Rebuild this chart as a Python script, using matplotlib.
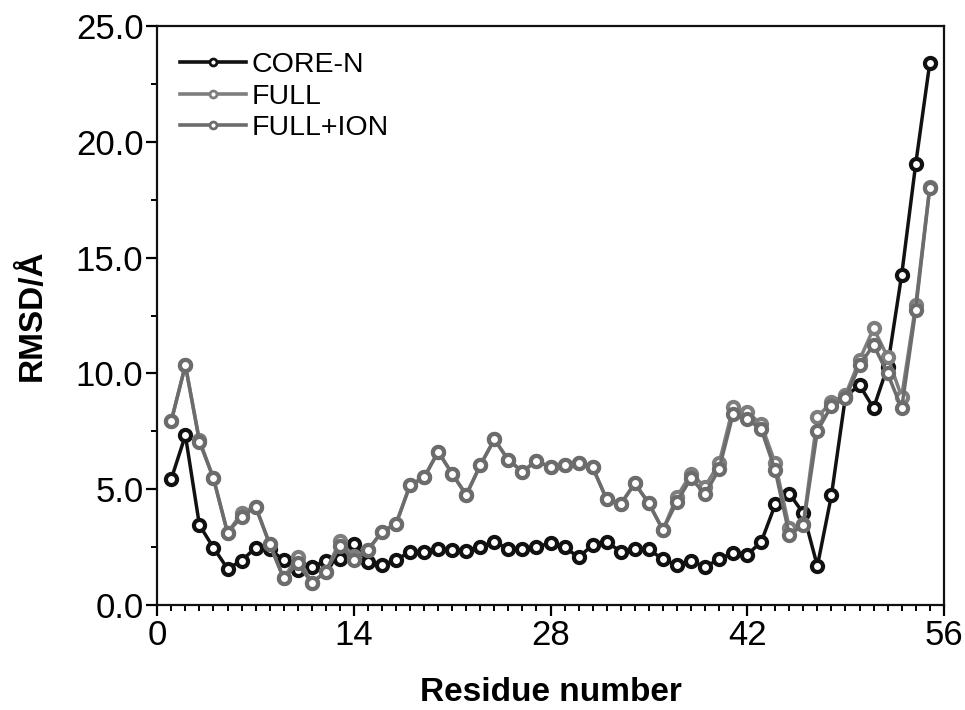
import matplotlib
matplotlib.use("Agg")
import matplotlib.pyplot as plt
from matplotlib.lines import Line2D
from matplotlib.ticker import MultipleLocator, FormatStrFormatter

plt.rcParams['font.family'] = ['Liberation Sans', 'DejaVu Sans']

residues = list(range(1, 56))

core_n = [5.45, 7.33, 3.45, 2.47, 1.57, 1.90, 2.48, 2.40, 1.94, 1.51,
          1.63, 1.91, 1.97, 2.62, 1.87, 1.73, 1.94, 2.30, 2.30, 2.42,
          2.37, 2.35, 2.52, 2.73, 2.42, 2.42, 2.52, 2.66, 2.49, 2.06,
          2.59, 2.73, 2.30, 2.40, 2.40, 1.97, 1.73, 1.91, 1.65, 1.97,
          2.26, 2.17, 2.72, 4.34, 4.81, 3.96, 1.68, 4.73, 9.00, 9.50,
          8.50, 10.30, 14.25, 19.04, 23.40]

full = [7.96, 10.36, 7.12, 5.47, 3.12, 3.96, 4.25, 2.63, 1.15, 2.09,
        0.95, 1.44, 2.75, 2.10, 2.37, 3.17, 3.50, 5.18, 5.51, 6.62,
        5.66, 4.75, 6.04, 7.15, 6.26, 5.76, 6.23, 5.94, 6.04, 6.15,
        5.94, 4.56, 4.36, 5.25, 4.39, 3.24, 4.68, 5.66, 5.11, 6.12,
        8.54, 8.32, 7.82, 6.12, 3.34, 3.50, 8.13, 8.75, 9.07, 10.58,
        11.95, 10.72, 8.99, 12.95, 18.04]

full_ion = [7.96, 10.36, 7.05, 5.47, 3.12, 3.81, 4.25, 2.63, 1.15, 1.80,
            0.95, 1.44, 2.55, 1.95, 2.37, 3.17, 3.50, 5.18, 5.51, 6.62,
            5.66, 4.75, 6.04, 7.15, 6.26, 5.76, 6.23, 5.94, 6.04, 6.15,
            5.94, 4.56, 4.36, 5.25, 4.39, 3.24, 4.46, 5.47, 4.79, 5.86,
            8.25, 8.02, 7.59, 5.81, 3.03, 3.45, 7.51, 8.60, 8.92, 10.36,
            11.23, 10.00, 8.49, 12.74, 18.00]

series_names = ["CORE-N", "FULL", "FULL+ION"]
series_colors = ["#111111", "#7e7e7e", "#6c6c6c"]

x_ticks = [0, 14, 28, 42, 56]
y_ticks = [0.0, 5.0, 10.0, 15.0, 20.0, 25.0]

fig = plt.figure(figsize=(9.65, 7.10), dpi=100)
ax = fig.add_axes([0.163, 0.148, 0.815, 0.815])

for vals, col in zip([core_n, full, full_ion], series_colors):
    ax.plot(residues, vals, color=col, lw=2.5, marker='o', ms=8.0,
            mew=3.0, mfc='white', mec=col, zorder=3)

ax.set_xlim(0, 56)
ax.set_ylim(0, 25)
ax.set_xticks(x_ticks)
ax.set_yticks(y_ticks)
ax.yaxis.set_major_formatter(FormatStrFormatter('%.1f'))
ax.xaxis.set_minor_locator(MultipleLocator(1))
ax.yaxis.set_minor_locator(MultipleLocator(2.5))

ax.tick_params(which='major', direction='out', length=8, width=1.6,
               labelsize=25, pad=2, top=False, right=False)
ax.tick_params(which='minor', direction='out', length=4.5, width=1.4,
               top=False, right=False)
for sp in ax.spines.values():
    sp.set_linewidth(1.6)
    sp.set_color('#111111')

ax.set_xlabel("Residue number", fontsize=24, fontweight='bold', labelpad=18)
ax.set_ylabel("RMSD/Å", fontsize=24, fontweight='bold', labelpad=20)

handles = [Line2D([0], [0], color=c, lw=2.6, marker='o', ms=5.0, mew=2.0,
                  mfc='white', mec=c) for c in series_colors]
ax.legend(handles, series_names, loc='upper left', frameon=False,
          fontsize=20.5, handlelength=2.3, handletextpad=0.2,
          labelspacing=0.2, borderaxespad=0.4, bbox_to_anchor=(0.0, 0.995))

fig.savefig("out.png", dpi=100, facecolor='white')
